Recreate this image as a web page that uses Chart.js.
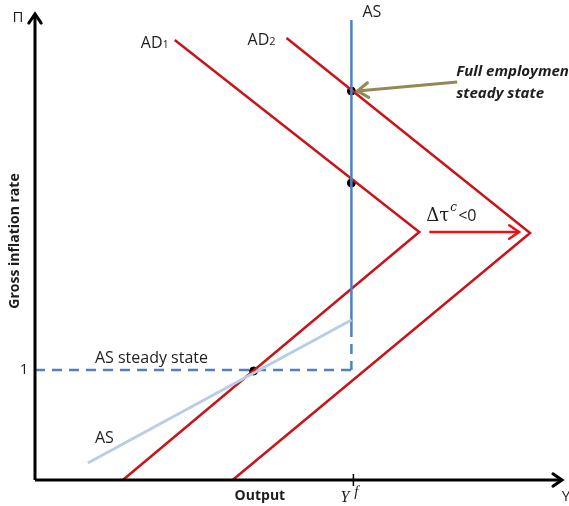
<!DOCTYPE html>
<html>
<head>
<meta charset="utf-8">
<script src="https://cdn.jsdelivr.net/npm/chart.js@4"></script>
<style>
  html, body { margin: 0; padding: 0; background: #fff; }
</style>
</head>
<body>
<canvas id="chart" width="569" height="506"></canvas>
<script>
// Diagram data (arbitrary units: x = output, y = gross inflation rate) ==============================================
const ad1X = [140, 385, 88];
const ad1Y = [440, 248, 0];
const ad2X = [252, 496, 198];
const ad2Y = [442, 247, 0];

const yFull = 317;                 // full employment output Y^f
const asVertY = [460, 153];        // vertical (long run) AS, solid part
const asDashY = [153, 110];        // dashed continuation down to the steady state line
const steadyPi = 110;              // gross inflation = 1
const asSlopeX = [53, 317];        // short run AS
const asSlopeY = [17, 160];

const dotX = [317, 317, 219];      // intersections
const dotY = [389, 297, 109];

const shiftX = [395, 485];         // delta tau^c < 0 shift arrow
const shiftY = [248, 248];
const noteX = [423, 323];          // pointer to full employment steady state
const noteY = [398, 389];

const axisXMax = 528;
const axisYMax = 466;

// helpers ==============================================================================================================
function pts(xs, ys) {
    return xs.map((x, i) => ({ x: x, y: ys[i] }));
}

function line(data, color, width, dash) {
    return {
        data: data,
        showLine: true,
        borderColor: color,
        borderWidth: width,
        borderDash: dash || [],
        pointRadius: 0,
        fill: false,
        clip: false
    };
}

const RED = '#c8141a';
const BLUE = '#4f81bd';

// arrow heads + text ===================================================================================================
function chevron(ctx, x, y, ang, len, color, width) {
    ctx.save();
    ctx.strokeStyle = color;
    ctx.lineWidth = width;
    ctx.lineCap = 'round';
    ctx.beginPath();
    ctx.moveTo(x - len * Math.cos(ang - 0.6), y - len * Math.sin(ang - 0.6));
    ctx.lineTo(x, y);
    ctx.lineTo(x - len * Math.cos(ang + 0.6), y - len * Math.sin(ang + 0.6));
    ctx.stroke();
    ctx.restore();
}

const decorations = {
    id: 'decorations',
    afterDatasetsDraw(chart) {
        const ctx = chart.ctx;
        const sx = chart.scales.x, sy = chart.scales.y;
        const X = v => sx.getPixelForValue(v);
        const Y = v => sy.getPixelForValue(v);

        // axis arrows
        chevron(ctx, X(0), Y(axisYMax), -Math.PI / 2, 11, '#000', 3);
        chevron(ctx, X(axisXMax), Y(0), 0, 11, '#000', 3);

        // Y^f tick
        ctx.save();
        ctx.strokeStyle = '#000';
        ctx.lineWidth = 1.5;
        ctx.beginPath();
        ctx.moveTo(X(yFull + 2), Y(0) - 6);
        ctx.lineTo(X(yFull + 2), Y(0) + 6);
        ctx.stroke();
        ctx.restore();

        // shift arrow head + note arrow head
        chevron(ctx, X(shiftX[1]), Y(shiftY[1]), 0, 12, '#f01010', 2.5);
        const a = Math.atan2(Y(noteY[1]) - Y(noteY[0]), X(noteX[1]) - X(noteX[0]));
        chevron(ctx, X(noteX[1]), Y(noteY[1]), a, 13, '#938953', 3);

        // text
        ctx.save();
        ctx.fillStyle = '#1e1e1e';
        const sans = '"Open Sans", sans-serif';

        function txt(s, x, y, font, align, base) {
            ctx.font = font;
            ctx.textAlign = align || 'left';
            ctx.textBaseline = base || 'middle';
            ctx.fillText(s, x, y);
            return ctx.measureText(s).width;
        }

        txt('\u03a0', 18, 18, '15px ' + sans, 'center');

        let w = txt('AD', X(106), Y(437), '16px ' + sans);
        txt('1', X(106) + w, Y(437) + 2, '11px ' + sans);
        w = txt('AD', X(213), Y(440), '16px ' + sans);
        txt('2', X(213) + w, Y(440) + 2, '11px ' + sans);

        txt('AS', X(328), Y(468), '16px ' + sans);
        txt('Full employment', X(422), Y(408), 'italic bold 15px ' + sans);
        txt('steady state', X(422), Y(386), 'italic bold 15px ' + sans);

        const by = Y(265) + 6;
        w = txt('\u0394\u03c4', X(392), by, '18px "DejaVu Serif", serif', 'left', 'alphabetic');
        txt('c', X(392) + w + 1, by - 10, 'italic 12px "DejaVu Serif", serif', 'left', 'alphabetic');
        txt('<0', X(392) + w + 9, by, '16px ' + sans, 'left', 'alphabetic');

        txt('AS steady state', X(60), Y(122), '16px ' + sans);
        txt('1', 24, Y(steadyPi), '15px ' + sans, 'center');
        txt('AS', X(60), Y(42), '16px ' + sans);

        txt('Output', X(200), Y(0) + 16, 'bold 14px ' + sans);
        w = txt('Y', X(306), Y(0) + 22, 'italic 16px "Liberation Serif", serif', 'left', 'alphabetic');
        txt('f', X(306) + w + 5, Y(0) + 16, 'italic 15px "Liberation Serif", serif', 'left', 'alphabetic');
        txt('Y', 566, Y(0) + 17, '15px ' + sans, 'center');

        ctx.translate(15, 241);
        ctx.rotate(-Math.PI / 2);
        txt('Gross inflation rate', 0, 0, 'bold 14px ' + sans, 'center');
        ctx.restore();
    }
};

// Chart ================================================================================================================
new Chart(document.getElementById('chart'), {
    type: 'scatter',
    data: {
        datasets: [
            line(pts([0, 0], [0, axisYMax]), '#000', 3),
            line(pts([0, axisXMax], [0, 0]), '#000', 3),
            line(pts(asSlopeX, asSlopeY), '#b9cde5', 3),
            line(pts([0, yFull], [steadyPi, steadyPi]), BLUE, 2.5, [10, 7]),
            line(pts([yFull, yFull], asDashY), BLUE, 2.5, [10, 7]),
            line(pts([yFull, yFull], asVertY), BLUE, 2.5),
            line(pts(ad1X, ad1Y), RED, 2.5),
            line(pts(ad2X, ad2Y), RED, 2.5),
            line(pts(shiftX, shiftY), '#f01010', 2.5),
            line(pts(noteX, noteY), '#938953', 3),
            {
                data: pts(dotX, dotY),
                pointRadius: 4,
                pointBackgroundColor: '#000',
                pointBorderColor: '#000',
                showLine: false,
                clip: false
            }
        ]
    },
    options: {
        responsive: false,
        animation: false,
        layout: { padding: { left: 35, right: 4, top: 10, bottom: 26 } },
        plugins: { legend: { display: false }, tooltip: { enabled: false } },
        scales: {
            x: { type: 'linear', min: 0, max: 530, display: false },
            y: { type: 'linear', min: 0, max: 470, display: false }
        }
    },
    plugins: [decorations]
});
</script>
</body>
</html>
